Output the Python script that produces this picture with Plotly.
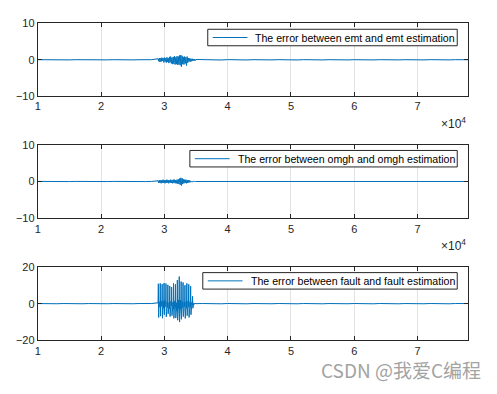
import plotly.graph_objects as go

# Sample positions (sample index) for the estimation-error records
t_before = list(range(10000, 29000, 1000))          # quiet part before the fault
t_burst = list(range(29000, 35100, 100))            # fault interval (emt, omgh)
t_burst_fault = list(range(29000, 35050, 50))       # fault interval (fault), finer
t_after = list(range(36000, 78001, 1000))           # quiet part after the fault

# Error between emt and emt estimation
emt_before = [0.03, -0.02, 0.03, -0.03, 0.02, -0.03, 0.03, -0.02, 0.02, -0.03,
              0.03, -0.02, 0.03, -0.03, 0.02, -0.03, 0.02, -0.02, 0.03]
emt_burst = [0.3, -0.4, 0.5, -0.6, 0.4, -0.5, 0.6, -0.3, 0.5, -0.7,
             0.6, -0.5, 0.4, -0.8, 0.7, -0.6, 0.5, -0.9, 0.8, -0.7,
             0.9, -1.0, 0.6, -1.2, 0.8, -1.1, 1.0, -1.3, 0.7, -1.2,
             1.0, -1.4, 0.9, -1.3, 1.2, -1.5, 1.3, -1.9, 1.1, -1.2,
             0.8, -1.3, 0.9, -1.0, 0.7, -1.6, 0.9, -0.8, 0.5, -0.5,
             0.4, -0.5, 0.3, -0.4, 0.3, -0.3, 0.2, -0.3, 0.2, -0.2, 0.1]
emt_after = [0.06, -0.05, 0.04, -0.06, 0.05, -0.04, 0.04, -0.05, 0.03, -0.04,
             0.04, -0.03, 0.04, -0.04, 0.06, -0.05, 0.04, -0.03, 0.04, -0.04,
             0.03, -0.04, 0.05, -0.04, 0.03, -0.03, 0.04, -0.04, 0.03, -0.04,
             0.04, -0.03, 0.03, -0.04, 0.04, -0.03, 0.04, -0.04, 0.03, -0.03,
             0.04, -0.04, 0.02]

# Error between omgh and omgh estimation
omgh_before = [0.02, -0.02, 0.02, -0.02, 0.02, -0.02, 0.02, -0.02, 0.02, -0.02,
               0.02, -0.02, 0.02, -0.02, 0.02, -0.02, 0.02, -0.02, 0.02]
omgh_burst = [0.2, -0.4, 0.4, -0.4, 0.3, -0.5, 0.4, -0.3, 0.5, -0.4,
              0.3, -0.5, 0.4, -0.4, 0.5, -0.3, 0.4, -0.5, 0.3, -0.4,
              0.5, -0.4, 0.4, -0.5, 0.5, -0.4, 0.5, -0.5, 0.4, -0.5,
              0.5, -0.6, 0.6, -0.7, 0.8, -0.9, 1.0, -1.1, 0.9, -0.7,
              0.6, -0.5, 0.5, -0.4, 0.5, -0.5, 0.4, -0.4, 0.4, -0.3,
              0.3, -0.2, 0.1, -0.1, 0.05, -0.05, 0.05, -0.05, 0.0, 0.0, 0.0]
omgh_after = [0.02, -0.02, 0.02, -0.02, 0.02, -0.02, 0.02, -0.02, 0.02, -0.02,
              0.02, -0.02, 0.02, -0.02, 0.02, -0.02, 0.02, -0.02, 0.02, -0.02,
              0.02, -0.02, 0.02, -0.02, 0.02, -0.02, 0.02, -0.02, 0.02, -0.02,
              0.02, -0.02, 0.02, -0.02, 0.02, -0.02, 0.02, -0.02, 0.02, -0.02,
              0.02, -0.02, 0.0]

# Error between fault and fault estimation
fault_before = [0.06, -0.06, 0.05, -0.06, 0.06, -0.05, 0.06, -0.06, 0.05, -0.06,
                0.06, -0.05, 0.06, -0.06, 0.05, -0.06, 0.06, -0.05, 0.06]
fault_burst = [0.5, 10.8, -7.5, 1.0, -1.5, 0.8,
               -2.0, 11.0, -6.8, 1.5, -2.5, 1.0,
               -1.5, 10.6, -7.9, 0.8, -2.2, 1.2,
               -2.5, 11.2, -6.0, 1.8, -1.8, 0.5,
               -1.0, 10.9, -7.2, 1.5, -3.0, 1.0,
               -2.0, 10.2, -5.5, 2.0, -1.5, 0.6,
               -2.8, 9.6, -7.0, 1.2, -2.0, 1.4,
               -1.2, 9.0, -6.5, 2.0, -2.5, 0.8,
               -3.0, 11.0, -8.0, 1.0, -2.0, 1.5,
               -2.2, 10.5, -7.8, 2.2, -3.5, 0.5,
               -4.0, 12.8, -9.0, 1.5, -3.0, 2.0,
               -2.5, 14.7, -10.0, 1.0, -4.0, 2.0,
               -3.0, 12.0, -8.5, 2.0, -2.5, 1.0,
               -2.0, 11.5, -7.0, 1.5, -3.5, 0.8,
               -1.5, 10.0, -8.0, 2.0, -2.0, 1.2,
               -2.5, 11.0, -6.5, 1.0, -2.0, 1.5,
               -1.8, 10.5, -7.5, 2.5, -3.0, 1.0,
               -2.0, 9.5, -6.0, 1.5, -1.5, 0.8,
               -1.0, 4.0, -2.5, 1.5, -0.8, 0.4,
               -0.3, 0.3, -0.2, 0.2, -0.1, 0.1,
               0.0]
fault_after = [0.08, -0.08, 0.06, -0.08, 0.08, -0.06, 0.08, -0.08, 0.06, -0.08,
               0.08, -0.06, 0.08, -0.08, 0.06, -0.08, 0.08, -0.06, 0.08, -0.08,
               0.06, -0.08, 0.08, -0.06, 0.08, -0.08, 0.06, -0.08, 0.08, -0.06,
               0.08, -0.08, 0.06, -0.08, 0.08, -0.06, 0.08, -0.08, 0.06, -0.08,
               0.08, -0.06, 0.05]

legend_names = ["The error between emt and emt estimation",
                "The error between omgh and omgh estimation",
                "The error between fault and fault estimation"]
y_ticks = [[-10, 0, 10], [-10, 0, 10], [-20, 0, 20]]
x_ticks = [10000, 20000, 30000, 40000, 50000, 60000, 70000]
x_tick_text = ["1", "2", "3", "4", "5", "6", "7"]

W, H = 497, 394
LINE = "#0072BD"
AXC = "#262626"
FONT = "Liberation Sans, Arial, sans-serif"

t_series = [t_before + t_burst + t_after,
            t_before + t_burst + t_after,
            t_before + t_burst_fault + t_after]
series = [emt_before + emt_burst + emt_after,
          omgh_before + omgh_burst + omgh_after,
          fault_before + fault_burst + fault_after]

# panel geometry in pixels: (top, bottom) of each plot box
panels = [(18, 93), (143, 219), (269, 345)]
x_left, x_right = 35, 468
legend_boxes = [(24, 206), (149, 188), (275, 201)]  # (top, left) of legend frames
legend_right, legend_h = 457, 17

fig = go.Figure()
layout = dict(
    width=W, height=H,
    margin=dict(l=0, r=0, t=0, b=0),
    paper_bgcolor="white", plot_bgcolor="white",
    font=dict(family=FONT, size=11, color=AXC),
    showlegend=False,
)
shapes, annotations = [], []

for i, (ts, vals, name) in enumerate(zip(t_series, series, legend_names)):
    k = "" if i == 0 else str(i + 1)
    fig.add_trace(go.Scatter(
        x=ts, y=vals, mode="lines", name=name,
        line=dict(color=LINE, width=1),
        xaxis=f"x{k}", yaxis=f"y{k}",
    ))
    top, bot = panels[i]
    common = dict(
        showline=True, linecolor=AXC, linewidth=1, mirror="ticks",
        ticks="inside", ticklen=4, tickcolor=AXC,
        showgrid=True, gridcolor="#e3e3e3", gridwidth=1, zeroline=False,
        tickfont=dict(size=11, color=AXC),
    )
    layout[f"xaxis{k}"] = dict(
        domain=[x_left / W, x_right / W], anchor=f"y{k}",
        range=[10000, 78000], tickvals=x_ticks, ticktext=x_tick_text, **common)
    layout[f"yaxis{k}"] = dict(
        domain=[1 - bot / H, 1 - top / H], anchor=f"x{k}",
        range=[y_ticks[i][0], y_ticks[i][-1]], tickvals=y_ticks[i], **common)

    # legend frame with line sample and label
    ltop, lleft = legend_boxes[i]
    y0, y1 = 1 - (ltop + legend_h) / H, 1 - ltop / H
    ymid = 1 - (ltop + 8.5) / H
    shapes.append(dict(type="rect", xref="paper", yref="paper",
                       x0=lleft / W, x1=legend_right / W, y0=y0, y1=y1,
                       line=dict(color=AXC, width=1), fillcolor="white",
                       layer="above"))
    shapes.append(dict(type="line", xref="paper", yref="paper",
                       x0=(lleft + 5) / W, x1=(lleft + 40) / W, y0=ymid, y1=ymid,
                       line=dict(color=LINE, width=1), layer="above"))
    annotations.append(dict(
        text=name, x=(lleft + 46) / W, y=ymid, xref="paper", yref="paper",
        xanchor="left", yanchor="middle", showarrow=False,
        font=dict(size=10.6, color="black", family=FONT)))

for top, bot in panels[:2]:
    annotations.append(dict(
        text="×10<sup>4</sup>", x=x_right / W, y=1 - (bot + 28) / H,
        xref="paper", yref="paper", xanchor="right", yanchor="middle",
        showarrow=False, font=dict(size=12, color=AXC, family=FONT),
    ))
annotations.append(dict(
    text="CSDN @我爱C编程", x=483 / W, y=1 - 375 / H,
    xref="paper", yref="paper", xanchor="right", yanchor="middle",
    showarrow=False,
    font=dict(size=19, color="#a3a3a3", family="Noto Sans CJK SC, sans-serif"),
))
layout["shapes"] = shapes
layout["annotations"] = annotations

fig.update_layout(**layout)
fig.write_html("out.html")
